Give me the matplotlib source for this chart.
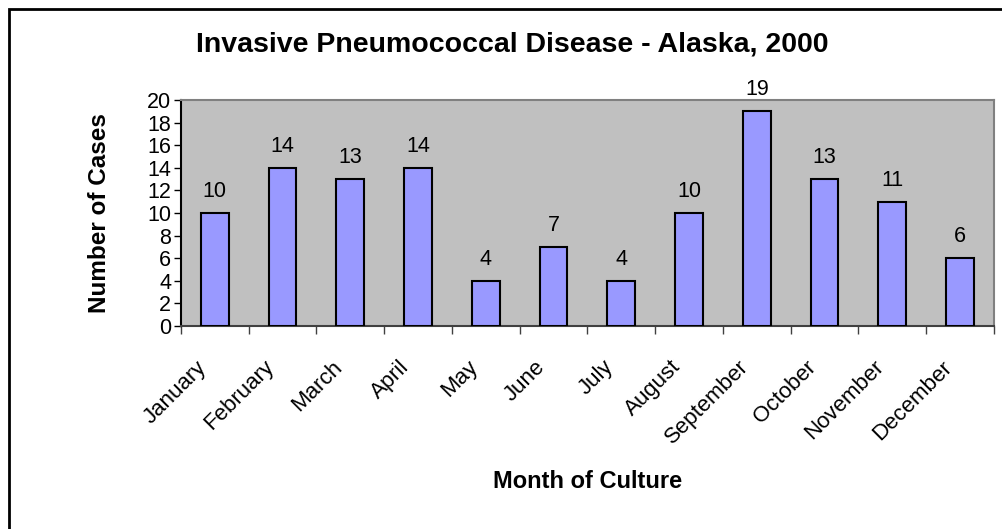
import numpy as np
import matplotlib
matplotlib.use("Agg")
import matplotlib.pyplot as plt
from matplotlib.patches import Rectangle
from matplotlib.transforms import ScaledTranslation

plt.rcParams['font.family'] = ['Liberation Sans', 'DejaVu Sans']

### data
months = ['January', 'February', 'March', 'April', 'May', 'June', 'July',
          'August', 'September', 'October', 'November', 'December']
cases = [10, 14, 13, 14, 4, 7, 4, 10, 19, 13, 11, 6]
yticks = [0, 2, 4, 6, 8, 10, 12, 14, 16, 18, 20]

fig = plt.figure(figsize=(10.02, 5.29), dpi=100)
ax = fig.add_axes([0.1806, 0.3837, 0.8114, 0.4273])

x = np.arange(len(months))
ax.bar(x, cases, width=0.41, color='#9999FF', edgecolor='black', linewidth=1.5, zorder=3)
for xi, v in zip(x, cases):
    ax.annotate(str(v), (xi, v), xytext=(0, 8), textcoords='offset points',
                ha='center', va='bottom', fontsize=15.5)

ax.set_facecolor('#C0C0C0')
ax.set_xlim(-0.5, len(months) - 0.5)
ax.set_ylim(0, 20)
ax.set_yticks(yticks)
ax.tick_params(axis='y', labelsize=15.5, length=5, width=1, pad=2)

# ticks between categories, labels at centers
ax.set_xticks(x)
ax.set_xticklabels(months, rotation=45, ha='right', rotation_mode='anchor', fontsize=16)
ax.set_xticks(np.arange(-0.5, len(months)), minor=True)
ax.tick_params(axis='x', which='major', length=0, pad=22)
ax.tick_params(axis='x', which='minor', length=6, width=1, color='#404040')
shift = ScaledTranslation(-19 / 100, 0, fig.dpi_scale_trans)
for lab in ax.get_xticklabels():
    lab.set_transform(lab.get_transform() + shift)

ax.spines['left'].set_color('black')
ax.spines['bottom'].set_color('#404040')
ax.spines['top'].set_color('#808080')
ax.spines['right'].set_color('#808080')
for s in ax.spines.values():
    s.set_linewidth(1.5)

fig.text(0.0998, 1 - 213 / 529, 'Number of Cases', rotation=90, ha='center', va='center',
         fontsize=17.5, fontweight='bold')
fig.text(0.5868, 1 - 482 / 529, 'Month of Culture', ha='center', va='center',
         fontsize=17, fontweight='bold')
fig.text(0.511, 1 - 45 / 529, 'Invasive Pneumococcal Disease - Alaska, 2000',
         ha='center', va='center', fontsize=20.5, fontweight='bold')

# chart border
fig.patches.append(Rectangle((9 / 1002, -0.01), 1.02, 1 - 9 / 529 + 0.01,
                             transform=fig.transFigure, fill=False,
                             edgecolor='black', linewidth=2))

fig.savefig('out.png', dpi=100)
